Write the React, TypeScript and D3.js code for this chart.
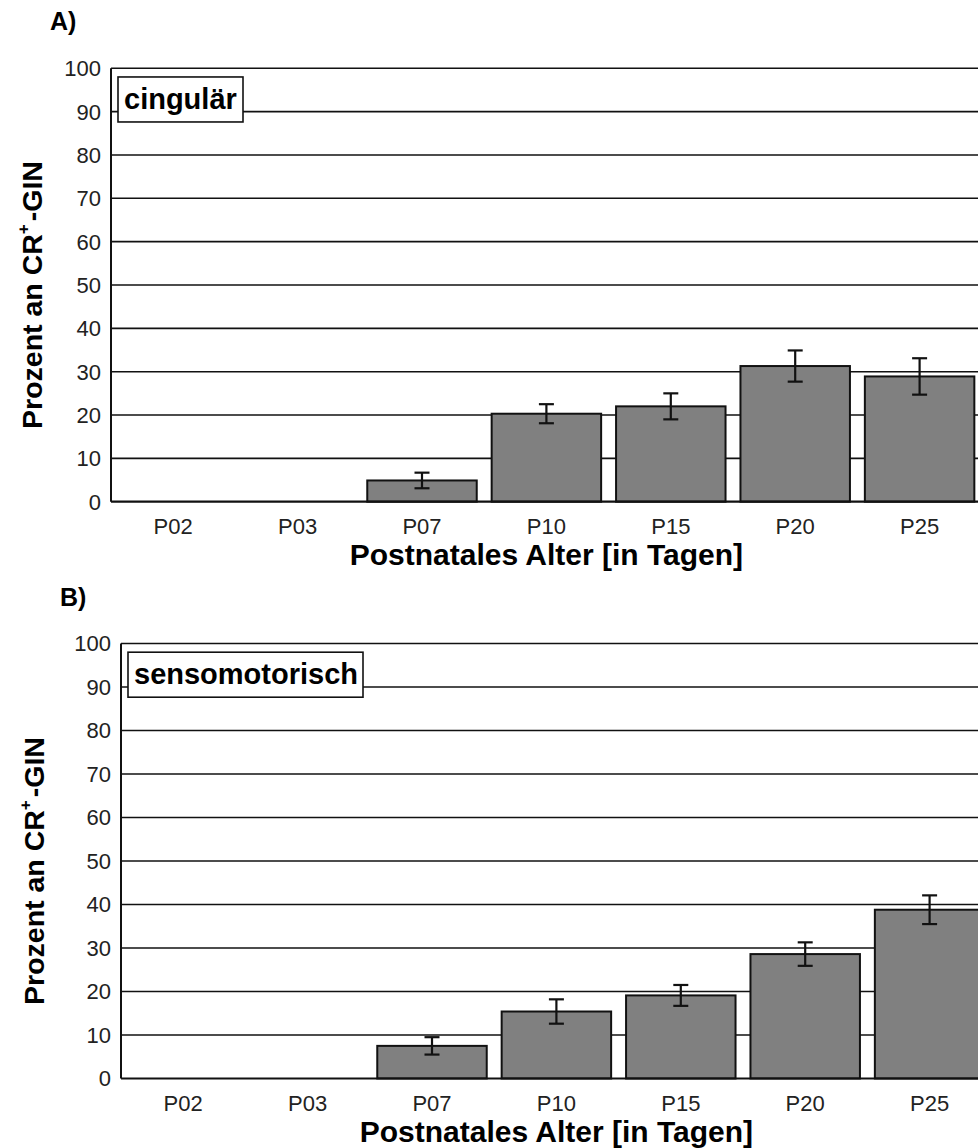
import React, { useEffect, useRef } from 'react';
import * as d3 from 'd3';

// Altersstufen (x-Achse)
const categories = ['P02', 'P03', 'P07', 'P10', 'P15', 'P20', 'P25'];
const yTicks = [0, 10, 20, 30, 40, 50, 60, 70, 80, 90, 100];

// A) cingulär: Mittelwert und Fehler (null = kein Balken)
const cingularMean: (number | null)[] = [null, null, 4.9, 20.3, 22.0, 31.3, 28.9];
const cingularErr: (number | null)[] = [null, null, 1.8, 2.2, 3.0, 3.6, 4.2];

// B) sensomotorisch
const sensoMean: (number | null)[] = [null, null, 7.5, 15.4, 19.1, 28.6, 38.8];
const sensoErr: (number | null)[] = [null, null, 2.0, 2.8, 2.4, 2.7, 3.3];

const FONT = '"Liberation Sans", Arial, Helvetica, sans-serif';

type PanelCfg = {
  letter: string;
  letterY: number;
  label: string;
  x0: number;
  top: number;
  bottom: number;
  tickY: number;
  titleY: number;
  yTitleX: number;
  boxW: number;
  mean: (number | null)[];
  err: (number | null)[];
};

export default function App() {
  const svgRef = useRef<SVGSVGElement>(null);

  useEffect(() => {
    document.body.style.margin = '0';
    const svg = d3.select(svgRef.current);
    svg.selectAll('*').remove();

    const step = 124.4;

    const panels: PanelCfg[] = [
      { letter: 'A)', letterY: 30, label: 'cingulär', x0: 111, top: 68.3, bottom: 501.7,
        tickY: 534, titleY: 565, yTitleX: 42, boxW: 125, mean: cingularMean, err: cingularErr },
      { letter: 'B)', letterY: 606, label: 'sensomotorisch', x0: 121, top: 643.5, bottom: 1078.5,
        tickY: 1111, titleY: 1142, yTitleX: 44, boxW: 235, mean: sensoMean, err: sensoErr },
    ];

    panels.forEach((p) => {
      const g = svg.append('g');

      const x = d3.scaleBand<string>()
        .domain(categories)
        .range([p.x0, p.x0 + categories.length * step])
        .paddingInner(0.12)
        .paddingOuter(0.06);

      const y = d3.scaleLinear().domain([0, 100]).range([p.bottom, p.top]);

      // Panel-Buchstabe
      g.append('text')
        .attr('x', p.x0 - 61)
        .attr('y', p.letterY)
        .attr('font-family', FONT)
        .attr('font-weight', 'bold')
        .attr('font-size', 25)
        .text(p.letter);

      // Gitternetzlinien
      g.selectAll('line.grid')
        .data(yTicks.filter((t) => t > 0))
        .join('line')
        .attr('x1', p.x0)
        .attr('x2', 978)
        .attr('y1', (d) => y(d))
        .attr('y2', (d) => y(d))
        .attr('stroke', '#111')
        .attr('stroke-width', 1.6);

      // Tick-Beschriftungen y
      g.selectAll('text.ytick')
        .data(yTicks)
        .join('text')
        .attr('x', p.x0 - 10)
        .attr('y', (d) => y(d))
        .attr('dy', '0.36em')
        .attr('text-anchor', 'end')
        .attr('font-family', FONT)
        .attr('font-size', 22)
        .attr('fill', '#222')
        .text((d) => d);

      // Balken
      const idx = d3.range(categories.length).filter((i) => p.mean[i] != null);
      g.selectAll('rect.bar')
        .data(idx)
        .join('rect')
        .attr('x', (i) => x(categories[i])!)
        .attr('y', (i) => y(p.mean[i]!))
        .attr('width', x.bandwidth())
        .attr('height', (i) => y(0) - y(p.mean[i]!))
        .attr('fill', '#808080')
        .attr('stroke', '#111')
        .attr('stroke-width', 2);

      // Fehlerbalken
      const eb = g.selectAll('g.err')
        .data(idx)
        .join('g')
        .attr('stroke', '#111')
        .attr('stroke-width', 2.2);
      const cx = (i: number) => x(categories[i])! + x.bandwidth() / 2;
      eb.append('line')
        .attr('x1', cx).attr('x2', cx)
        .attr('y1', (i) => y(p.mean[i]! + p.err[i]!))
        .attr('y2', (i) => y(p.mean[i]! - p.err[i]!));
      [1, -1].forEach((s) => {
        eb.append('line')
          .attr('x1', (i) => cx(i) - 7.5)
          .attr('x2', (i) => cx(i) + 7.5)
          .attr('y1', (i) => y(p.mean[i]! + s * p.err[i]!))
          .attr('y2', (i) => y(p.mean[i]! + s * p.err[i]!));
      });

      // Achsen
      g.append('line')
        .attr('x1', p.x0).attr('x2', p.x0)
        .attr('y1', p.top).attr('y2', p.bottom)
        .attr('stroke', '#111').attr('stroke-width', 2);
      g.append('line')
        .attr('x1', p.x0).attr('x2', 978)
        .attr('y1', p.bottom).attr('y2', p.bottom)
        .attr('stroke', '#111').attr('stroke-width', 2.2);

      // Tick-Beschriftungen x
      g.selectAll('text.xtick')
        .data(categories)
        .join('text')
        .attr('x', (d) => x(d)! + x.bandwidth() / 2)
        .attr('y', p.tickY)
        .attr('text-anchor', 'middle')
        .attr('font-family', FONT)
        .attr('font-size', 22)
        .attr('fill', '#222')
        .text((d) => d);

      // Achsentitel x
      g.append('text')
        .attr('x', p.x0 + (categories.length * step) / 2)
        .attr('y', p.titleY)
        .attr('text-anchor', 'middle')
        .attr('font-family', FONT)
        .attr('font-weight', 'bold')
        .attr('font-size', 30)
        .text('Postnatales Alter [in Tagen]');

      // Achsentitel y
      const yt = g.append('text')
        .attr('transform', `translate(${p.yTitleX},${(p.top + p.bottom) / 2 + 10}) rotate(-90)`)
        .attr('text-anchor', 'middle')
        .attr('font-family', FONT)
        .attr('font-weight', 'bold')
        .attr('font-size', 28.5);
      yt.append('tspan').text('Prozent an CR');
      yt.append('tspan').attr('font-size', 17).attr('dy', -13).text('+');
      yt.append('tspan').attr('dy', 13).attr('dx', 3).text('-GIN');

      // Beschriftungsbox
      g.append('rect')
        .attr('x', p.x0 + 7)
        .attr('y', y(98))
        .attr('width', p.boxW)
        .attr('height', 45)
        .attr('fill', '#fff')
        .attr('stroke', '#111')
        .attr('stroke-width', 1.6);
      g.append('text')
        .attr('x', p.x0 + 13)
        .attr('y', y(98) + 32)
        .attr('font-family', FONT)
        .attr('font-weight', 'bold')
        .attr('font-size', 29)
        .text(p.label);
    });
  }, []);

  return <svg ref={svgRef} width={978} height={1148} style={{ display: 'block', background: '#fff' }} />;
}
